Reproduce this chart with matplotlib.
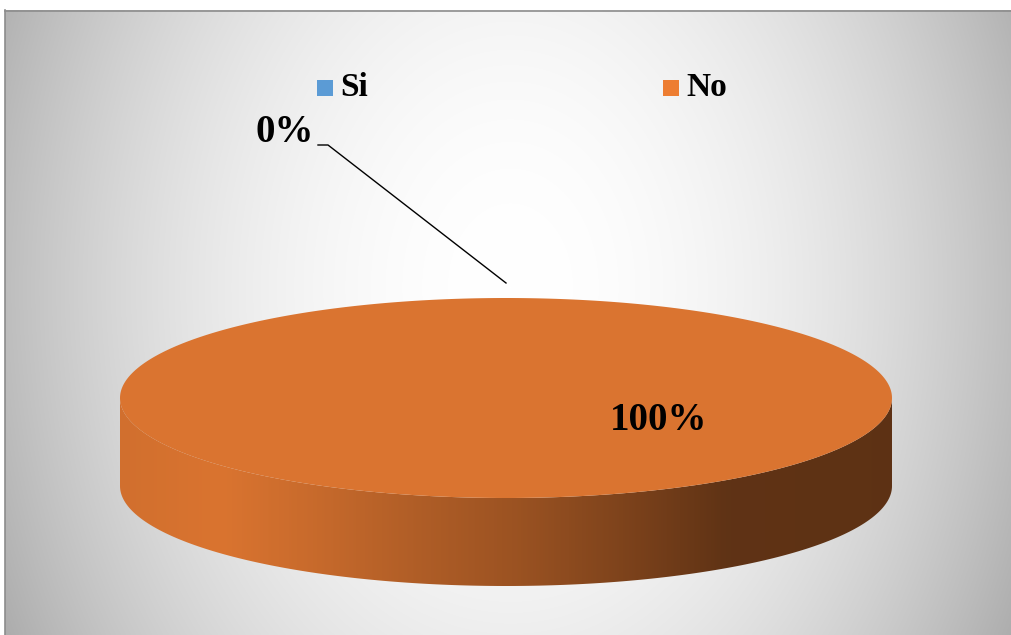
import numpy as np
import matplotlib
matplotlib.use('Agg')
import matplotlib.pyplot as plt
from matplotlib.patches import Polygon, Rectangle
from matplotlib.colors import LinearSegmentedColormap, to_rgb

# data
labels = ['Si', 'No']
values = [0, 100]
top_colors = ['#5B9BD5', '#DA7430']
legend_colors = ['#5B9BD5', '#ED7D31']

W, H = 1012, 635
fig = plt.figure(figsize=(W / 100, H / 100), dpi=100)
fig.patch.set_facecolor('white')
ax = fig.add_axes((0, 0, 1, 1))
ax.set_xlim(0, W)
ax.set_ylim(H, 0)
ax.axis('off')

# background radial gradient (chart area starts at x=5, y=10)
xs = np.arange(5, W)
ys = np.arange(10, H)
X, Y = np.meshgrid(xs, ys)
r2 = ((X - 510) / 522.0) ** 2 + ((Y - 287) / 703.0) ** 2
g = np.clip(255 - 70 * r2, 170, 255) / 255.0
bg = np.dstack([g, g, g])
ax.imshow(bg, extent=(5, W, H, 10), aspect='auto', zorder=0, interpolation='bilinear')
ax.plot([5.5, 5.5], [10, H], color='#8C8C8C', lw=1.2, zorder=1)
ax.plot([5, W], [10.5, 10.5], color='#8C8C8C', lw=1.2, zorder=1)

# 3d pie geometry
cx, cy, a, b, depth = 506, 398, 386, 100, 88


def ell(theta_deg, dy=0):
    t = np.radians(theta_deg)
    return cx + a * np.cos(t), cy - b * np.sin(t) + dy


# side shading factors across the width
shade_pos = [0.0, 0.13, 0.245, 0.38, 0.515, 0.65, 0.785, 1.0]
shade_val = [0.96, 1.0, 0.92, 0.81, 0.71, 0.58, 0.44, 0.43]

total = float(sum(values))
start = 90.0
slices = []
for lab, v, col in zip(labels, values, top_colors):
    sweep = v / total * 360.0
    t1, t2 = start, start - sweep   # clockwise
    slices.append((lab, v, col, t1, t2))
    start = t2

# sides (front half: angles 180..360)
for lab, v, col, t1, t2 in slices:
    if v <= 0:
        continue
    lo, hi = t2, t1
    segs = []
    for k in range(-2, 2):
        s0, s1 = max(lo, 180 + 360 * k), min(hi, 360 + 360 * k)
        if s1 > s0:
            segs.append((s0, s1))
    base = np.array(to_rgb(col))
    cmap = LinearSegmentedColormap.from_list(
        'side', [(p, tuple(base * f)) for p, f in zip(shade_pos, shade_val)])
    for s0, s1 in segs:
        th = np.linspace(s0, s1, 200)
        px, py = ell(th)
        bx, by = ell(th[::-1], depth)
        poly = Polygon(np.column_stack([np.r_[px, bx], np.r_[py, by]]),
                       closed=True, facecolor='none', edgecolor='none')
        ax.add_patch(poly)
        grad = np.linspace(0, 1, 400).reshape(1, -1)
        im = ax.imshow(grad, cmap=cmap, extent=(cx - a, cx + a, cy + b + depth, cy - b),
                       aspect='auto', zorder=2, interpolation='bilinear')
        im.set_clip_path(poly)

# tops
for lab, v, col, t1, t2 in slices:
    if v <= 0:
        continue
    th = np.linspace(t1, t2, 400)
    px, py = ell(th)
    if v < total:
        px, py = np.r_[cx, px], np.r_[cy, py]
    ax.add_patch(Polygon(np.column_stack([px, py]), closed=True,
                         facecolor=col, edgecolor='none', zorder=3))

# data labels
font = dict(family='Liberation Serif', weight='bold')
for lab, v, col, t1, t2 in slices:
    mid = (t1 + t2) / 2.0
    pct = '{:.0f}%'.format(v / total * 100)
    if v <= 0:
        ex, ey = ell(mid)
        ey -= 15
        kx, ky = ex - 178, ey - 138
        ax.plot([ex, kx, kx - 10], [ey, ky, ky], color='black', lw=1, zorder=4)
        ax.text(kx - 14, ky - 12, pct, ha='right', va='center', fontsize=28,
                color='black', zorder=5, **font)
    else:
        ax.text(cx + 153, cy + 23, pct, ha='center', va='center', fontsize=28,
                color='black', zorder=5, **font)

# legend
leg_x = [317, 663]
for lab, c, lx in zip(labels, legend_colors, leg_x):
    ax.add_patch(Rectangle((lx, 80), 16, 16, facecolor=c, edgecolor='none', zorder=5))
    ax.text(lx + 23, 88, lab, ha='left', va='center', fontsize=24, color='black',
            zorder=5, **font)

fig.savefig('out.png', dpi=100, facecolor='white')
